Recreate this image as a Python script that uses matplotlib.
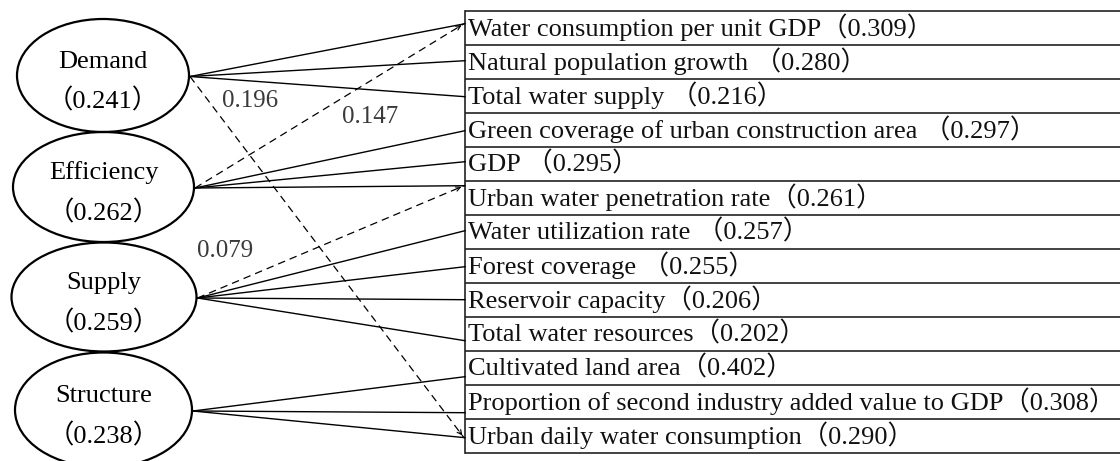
import matplotlib.pyplot as plt
from matplotlib.patches import Ellipse

# Data
factors = ['Demand', 'Efficiency', 'Supply', 'Structure']
factor_weights = [0.241, 0.262, 0.259, 0.238]

indicators = ['Water consumption per unit GDP', 'Natural population growth', 'Total water supply',
              'Green coverage of urban construction area', 'GDP', 'Urban water penetration rate',
              'Water utilization rate', 'Forest coverage', 'Reservoir capacity',
              'Total water resources', 'Cultivated land area',
              'Proportion of second industry added value to GDP', 'Urban daily water consumption']
indicator_weights = [0.309, 0.280, 0.216, 0.297, 0.295, 0.261, 0.257, 0.255, 0.206,
                     0.202, 0.402, 0.308, 0.290]
indicator_factor = [0, 0, 0, 1, 1, 1, 2, 2, 2, 2, 3, 3, 3]

# cross links: (factor, indicator, coefficient)
cross_from = [0, 1, 2]
cross_to = [12, 0, 5]
cross_values = [0.196, 0.147, 0.079]

# Layout (pixels)
wide_gap = [False, True, True, True, True, False, True, True, False, False, False, False, False]
ell_cx = [103, 103.5, 104, 103.5]
ell_cy = [75.5, 187, 297, 410]
ell_w = [172, 181, 185, 177]
ell_h = [113, 110, 109, 115]
row_top, row_h, box_x = 10.7, 34.0, 465
end_off = [-4, -1, 1, 1, -2, -12, -1, 1, 0, 7, 9, 11, 2]
label_pos = [(250, 101), (370, 117), (225, 251)]

serif = ['Liberation Serif', 'Noto Sans CJK SC']
fs = 19.0

fig = plt.figure(figsize=(11.2, 4.61), dpi=100)
ax = fig.add_axes([0, 0, 1, 1])
ax.set_xlim(0, 1120)
ax.set_ylim(461, 0)
ax.axis('off')

# indicator boxes
n = len(indicators)
for i in range(n + 1):
    y = row_top + i * row_h
    ax.plot([box_x, 1120], [y, y], color='#222222', lw=1.2, solid_capstyle='butt')
ax.plot([box_x, box_x], [row_top, row_top + n * row_h], color='#222222', lw=1.2)
for i, (name, w) in enumerate(zip(indicators, indicator_weights)):
    yc = row_top + (i + 0.5) * row_h
    sep = ' ' if wide_gap[i] else ''
    ax.text(box_x + 3, yc + 8, f'{name}{sep}（{w:.3f}）', family=serif, fontsize=fs,
            va='baseline', ha='left', color='#111111')

# factor ellipses
anchors = []
for k, (name, w) in enumerate(zip(factors, factor_weights)):
    e = Ellipse((ell_cx[k], ell_cy[k]), ell_w[k], ell_h[k], fill=False, lw=1.6, ec='black')
    ax.add_patch(e)
    ax.text(ell_cx[k], ell_cy[k] - 8, name, family=serif, fontsize=fs, ha='center', va='baseline')
    ax.text(ell_cx[k], ell_cy[k] + 33, f'（{w:.3f}）', family=serif, fontsize=fs,
            ha='center', va='baseline')
    anchors.append((ell_cx[k] + ell_w[k] / 2 + 1, ell_cy[k] + 1))

# solid links
for i, f in enumerate(indicator_factor):
    x0, y0 = anchors[f]
    y1 = row_top + (i + 0.5) * row_h + end_off[i]
    ax.plot([x0, box_x], [y0, y1], color='black', lw=1.0)

# dashed cross links with arrow heads
for f, t, v, (lx, ly) in zip(cross_from, cross_to, cross_values, label_pos):
    x0, y0 = anchors[f]
    y1 = row_top + (t + 0.5) * row_h + end_off[t]
    ax.plot([x0, box_x - 1], [y0, y1], color='black', lw=0.9, linestyle=(0, (6, 4)))
    dx, dy = box_x - 1 - x0, y1 - y0
    d = (dx ** 2 + dy ** 2) ** 0.5
    ax.annotate('', xy=(box_x - 1, y1), xytext=(box_x - 1 - 10 * dx / d, y1 - 10 * dy / d),
                arrowprops=dict(arrowstyle='->', lw=0.8, color='black', mutation_scale=8))
    ax.text(lx, ly, f'{v:.3f}', family=['Liberation Serif'], fontsize=18, color='#3a3a3a',
            ha='center', va='center')

plt.savefig('out.png', dpi=100)
